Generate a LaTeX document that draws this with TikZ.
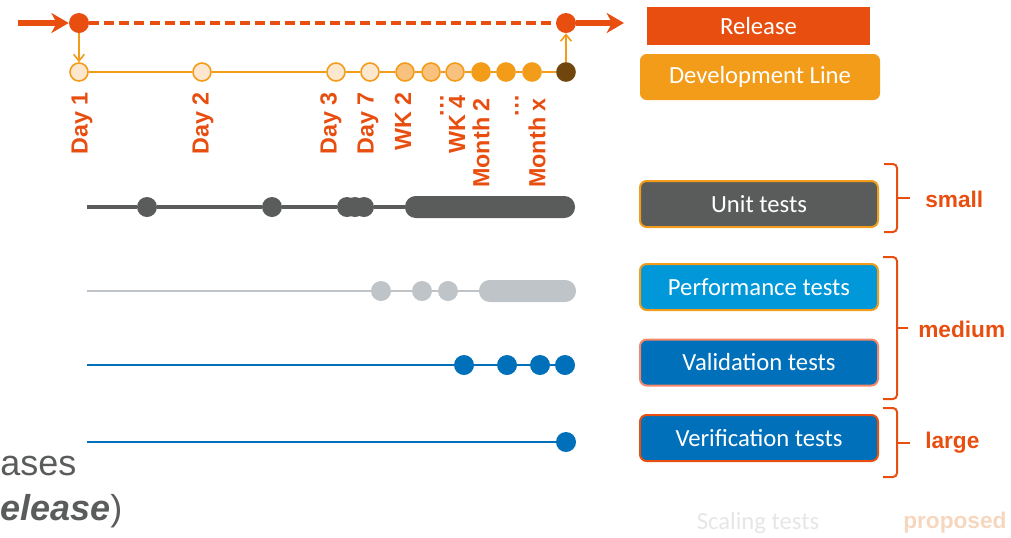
\documentclass[tikz,border=0pt]{standalone}
\usepackage{fontspec}
\setmainfont{Liberation Sans}
\newfontfamily\calib{Carlito}
\usetikzlibrary{arrows.meta}
\definecolor{relc}{HTML}{E84E10}
\definecolor{devc}{HTML}{F39C19}
\definecolor{lightdot}{HTML}{FDE7CF}
\definecolor{middot}{HTML}{F8C27E}
\definecolor{darkdot}{HTML}{70460C}
\definecolor{grayc}{HTML}{5A5C5C}
\definecolor{lgrayc}{HTML}{BEC4C8}
\definecolor{perfc}{HTML}{0098D8}
\definecolor{bluec}{HTML}{0070BA}
\definecolor{salmonc}{HTML}{F4876A}
\definecolor{fadegray}{HTML}{E6E6E6}
\definecolor{fadepeach}{HTML}{F7D6BE}
\tikzset{
  reldot/.style={circle, fill=relc, inner sep=0pt, minimum size=15pt},
  devdot/.style={circle, draw=devc, line width=1.2pt, inner sep=0pt, minimum size=13.5pt},
  lab/.style={rotate=90, anchor=east, inner sep=0pt, text=relc, font=\bfseries\fontsize{17.5}{19}\selectfont},
  tbox/.style={rounded corners=5pt, minimum width=178.5pt, minimum height=34.5pt, text=white, line width=1.5pt, font=\calib\fontsize{18.5}{20}\selectfont},
  tdot/.style={circle, inner sep=0pt, minimum size=15pt},
  tbar/.style={rectangle, rounded corners=8pt, inner sep=0pt, minimum height=16.5pt},
  brace/.style={draw=relc, line width=1.5pt, rounded corners=3pt},
  bracelab/.style={anchor=west, inner sep=0pt, text=relc, font=\bfseries\fontsize{17}{19}\selectfont},
  relarrow/.style={draw=relc, line width=4.5pt, -{Stealth[length=13pt,width=15pt,inset=4pt]}},
  devarrow/.style={draw=devc, line width=1.2pt, -{Straight Barb[length=5pt,width=8pt]}}
}
\begin{document}
\begin{tikzpicture}[x=0.75pt,y=-0.75pt]
\useasboundingbox (0,0) rectangle (1011,537);
\clip (0,0) rectangle (1011,537);

% release line
\node[reldot] (r1) at (79,23) {};
\node[reldot] (r2) at (566,23) {};
\coordinate (rs) at (18,23);
\coordinate (re) at (624,23);
\draw[relarrow] (rs) -- (r1);
\draw[relc, line width=3.4pt, dash pattern=on 7.5pt off 3.8pt] (r1) -- (r2);
\draw[relarrow] (r2) -- (re);

% development line dots
\node[devdot, fill=lightdot] (d1) at (79,72) {};
\node[devdot, fill=lightdot] (d2) at (202,72) {};
\node[devdot, fill=lightdot] (d3) at (336,72) {};
\node[devdot, fill=lightdot] (d4) at (370,72) {};
\node[devdot, fill=middot] (d5) at (405,72) {};
\node[devdot, fill=middot] (d6) at (431,72) {};
\node[devdot, fill=middot] (d7) at (455,72) {};
\node[devdot, fill=devc] (d8) at (481,72) {};
\node[devdot, fill=devc] (d9) at (506,72) {};
\node[devdot, fill=devc] (d10) at (532,72) {};
\node[devdot, fill=darkdot, draw=darkdot] (d11) at (566,72) {};
\draw[devc, line width=1.5pt] (d1) -- (d2) -- (d3) -- (d4) -- (d5) -- (d6) -- (d7) -- (d8) -- (d9) -- (d10) -- (d11);
\draw[devarrow] (r1) -- (d1);
\draw[devarrow] (d11) -- (r2);

% labels
\node[lab] (l1) at (82,92) {Day 1};
\node[lab] (l2) at (203,92) {Day 2};
\node[lab] (l3) at (331,92) {Day 3};
\node[lab] (l4) at (368,92) {Day 7};
\node[lab] (l5) at (403,92) {WK 2};
\node[lab] (l6) at (442,94) {\dots};
\node[lab] (l7) at (457,95) {WK 4};
\node[lab] (l8) at (481,98) {Month 2};
\node[lab] (l9) at (517,94) {\dots};
\node[lab] (l10) at (537,98) {Month x};

% boxes
\node[fill=relc, minimum width=167pt, minimum height=28.5pt, text=white, inner sep=0pt, font=\calib\fontsize{18.5}{20}\selectfont] (brel) at (758.5,26) {Release};
\node[tbox, fill=devc, minimum width=180pt] (bdev) at (760,77) {Development Line};
\node[tbox, fill=grayc, draw=devc] (bunit) at (759,204) {Unit tests};
\node[tbox, fill=perfc, draw=devc] (bperf) at (759,287) {Performance tests};
\node[tbox, fill=bluec, draw=salmonc] (bval) at (759,362.5) {Validation tests};
\node[tbox, fill=bluec, draw=relc] (bver) at (759,438) {Verification tests};

% unit tests row
\coordinate (us) at (87,207);
\node[tdot, fill=grayc] (u1) at (147,207) {};
\node[tdot, fill=grayc] (u2) at (272,207) {};
\node[tdot, fill=grayc] (u3) at (347,207) {};
\node[tdot, fill=grayc] (u4) at (355,207) {};
\node[tdot, fill=grayc] (u5) at (364,207) {};
\node[tbar, fill=grayc, minimum width=127.5pt] (ub) at (490,207) {};
\draw[grayc, line width=2.4pt] (us) -- (u1) -- (u2) -- (u3);
\draw[grayc, line width=2.4pt] (u5) -- (ub);

% performance row
\coordinate (ps) at (87,291);
\node[tdot, fill=lgrayc] (p1) at (381,291) {};
\node[tdot, fill=lgrayc] (p2) at (422,291) {};
\node[tdot, fill=lgrayc] (p3) at (448,291) {};
\node[tbar, fill=lgrayc, minimum width=72.75pt] (pb) at (527.5,291) {};
\draw[lgrayc, line width=1.6pt] (ps) -- (p1) -- (p2) -- (p3) -- (pb);

% validation row
\coordinate (vs) at (87,365);
\node[tdot, fill=bluec] (v1) at (464,365) {};
\node[tdot, fill=bluec] (v2) at (507,365) {};
\node[tdot, fill=bluec] (v3) at (540,365) {};
\node[tdot, fill=bluec] (v4) at (565,365) {};
\draw[bluec, line width=1.6pt] (vs) -- (v1) -- (v2) -- (v3) -- (v4);

% verification row
\coordinate (ws) at (87,442);
\node[tdot, fill=bluec] (w1) at (566,442) {};
\draw[bluec, line width=1.6pt] (ws) -- (w1);

% braces
\draw[brace] (884,164) -- (897,164) -- (897,232) -- (884,232);
\coordinate (sb) at (897,198);
\coordinate (st) at (910,198);
\draw[relc, line width=1.5pt] (sb) -- (st);
\node[bracelab] (small) at (925,199) {small};

\draw[brace] (883,257) -- (897,257) -- (897,399) -- (883,399);
\coordinate (mb) at (897,328);
\coordinate (mt) at (908,328);
\draw[relc, line width=1.5pt] (mb) -- (mt);
\node[bracelab] (medium) at (918,329) {medium};

\draw[brace] (883,408) -- (897,408) -- (897,477) -- (883,477);
\coordinate (lb) at (897,443);
\coordinate (lt) at (910,443);
\draw[relc, line width=1.5pt] (lb) -- (lt);
\node[bracelab] (large) at (925,443) {large};

% faded texts
\node[text=fadegray, font=\calib\fontsize{18.5}{20}\selectfont, inner sep=0pt] (scal) at (758,523) {Scaling tests};
\node[text=fadepeach, font=\bfseries\fontsize{17}{19}\selectfont, inner sep=0pt, anchor=west] (prop) at (903,523) {proposed};

% cut-off bottom-left text
\node[anchor=base west, inner sep=0pt, text=grayc, font=\fontsize{27}{30}\selectfont] (t1) at (0,475) {ases};
\node[anchor=base west, inner sep=0pt, text=grayc, font=\fontsize{27}{30}\selectfont] (t2) at (0,520) {\textbf{\textit{elease}})};
\end{tikzpicture}
\end{document}
